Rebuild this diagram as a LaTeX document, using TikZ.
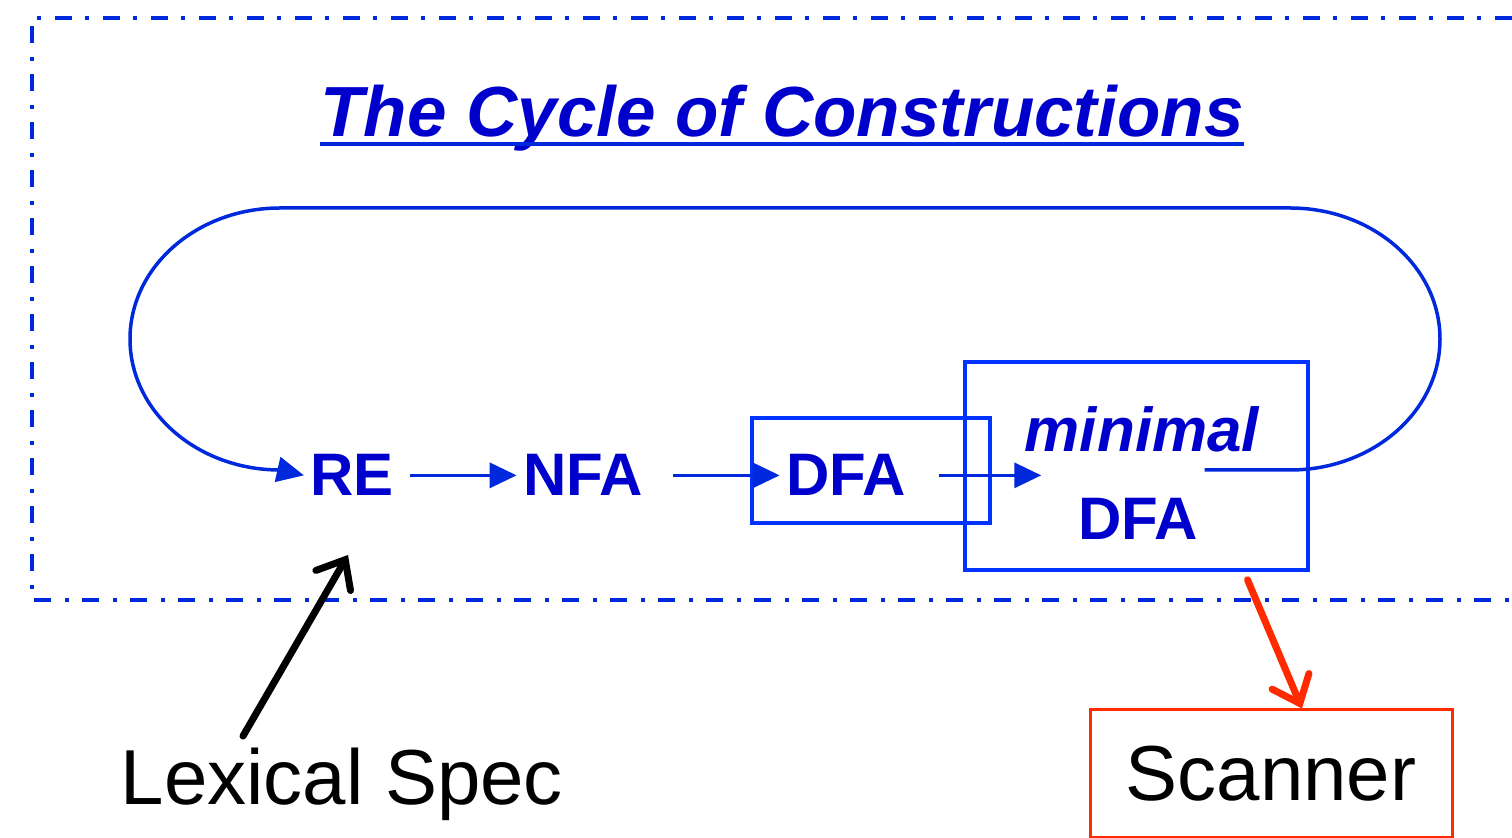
\documentclass[tikz,border=0pt]{standalone}
\usepackage{fontspec}
\setmainfont{Liberation Sans}
\usetikzlibrary{arrows.meta}
\definecolor{ink}{HTML}{0000CC}
\definecolor{wire}{HTML}{0028DC}
\definecolor{frame}{HTML}{0033FF}
\definecolor{alarm}{HTML}{FF2A00}

\begin{document}
\begin{tikzpicture}[x=0.5pt,y=-0.5pt,
  lbl/.style={font=\bfseries\fontsize{30}{30}\selectfont,text=ink,inner sep=3pt,anchor=base},
  box/.style={draw=frame,line width=1.75pt,inner sep=0pt},
  flow/.style={wire,line width=1.75pt,-{Triangle[length=13.5pt,width=12.5pt]}},
  pointer/.style={line width=3.5pt,line cap=round,-{Straight Barb[length=12pt,width=20pt,line cap=round]}}]
  \useasboundingbox (0,0) rectangle (1512,838);
  % dash-dot frame, open to the right
  \draw[wire,line width=2.2pt,dash pattern=on 8.5pt off 7pt on 2pt off 6.5pt]
    (1512,18) -- (32,18) -- (32,600) -- (1512,600);
  \node[font=\bfseries\itshape\fontsize{35.5}{36}\selectfont,text=ink,inner sep=0pt,anchor=base] (title) at (782,137) {The Cycle of Constructions};
  \draw[wire,line width=2pt] ([yshift=-3.5pt]title.base west) -- ([yshift=-3.5pt]title.base east);
  % stages
  \node[lbl] (RE) at (352,496) {RE};
  \node[lbl] (NFA) at (583,496) {NFA};
  \node[lbl] (DFA) at (846,496) {DFA};
  \node[box,minimum width=119pt,minimum height=52.5pt] (dfabox) at (871,470.5) {};
  \node[box,minimum width=171.5pt,minimum height=104pt] (mbox) at (1136.5,466) {};
  \node[lbl,font=\bfseries\itshape\fontsize{31}{31}\selectfont] (minword) at (1142,452) {minimal};
  \node[lbl] (mindfa) at (1138,540) {DFA};
  \draw[flow] ([xshift=5pt]RE.east) -- (NFA.west);
  \draw[flow] ([xshift=12pt]NFA.east) -- (DFA.west);
  \draw[flow] ([xshift=13.5pt]DFA.east) -- ([xshift=39pt]DFA.east -| mbox.west);
  % the loop back to RE
  \coordinate (loopR) at (1290,470);
  \coordinate (loopL) at (280,208);
  \draw[flow] ([shift={(34pt,-2pt)}]mbox.center) -- (loopR)
    arc[start angle=-90,end angle=90,x radius=75pt,y radius=65.5pt] -- (loopL)
    arc[start angle=90,end angle=270,x radius=75pt,y radius=65.5pt] -- (RE.west);
  % input and output
  \node[font=\fontsize{39}{39}\selectfont,anchor=base,inner sep=3pt] (spec) at (342,805) {Lexical Spec};
  \coordinate (feed) at (348,555);
  \draw[pointer] ([shift={(-49.5pt,3pt)}]spec.north) -- (feed);
  \node[draw=alarm,line width=1.5pt,minimum width=181pt,minimum height=64pt,font=\fontsize{39}{39}\selectfont] (scan) at (1271,774) {Scanner};
  \draw[pointer,alarm] ([shift={(55.5pt,-4pt)}]mbox.south) -- ([xshift=15.5pt]scan.north);
\end{tikzpicture}
\end{document}
